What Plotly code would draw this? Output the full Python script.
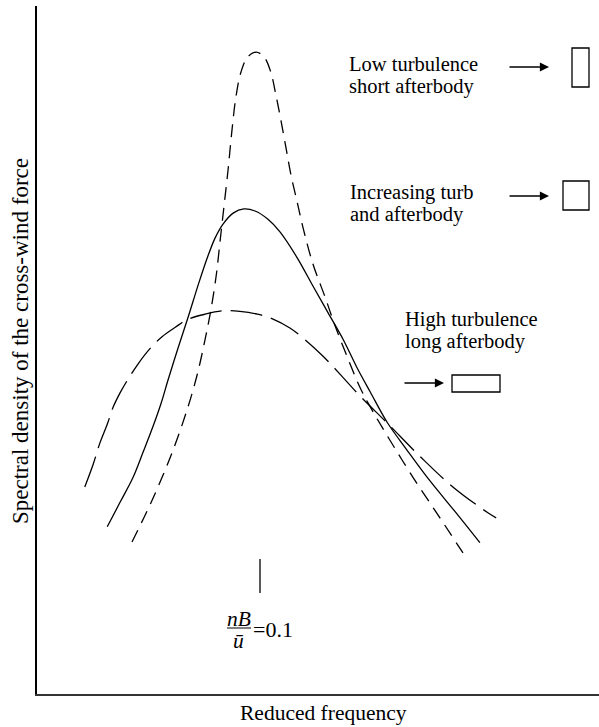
import plotly.graph_objects as go

# ---- data (arbitrary units) ----
# Low turbulence, short afterbody (short dashes)
low_x = [16.9, 20.5, 24.0, 26.7, 28.5, 29.9, 31.0, 31.9, 32.6, 33.3, 34.0, 34.7, 35.4, 36.3,
         37.5, 39.0, 40.4, 41.6, 42.5, 43.4, 44.3, 45.2, 46.3, 47.3, 49.1, 51.3, 53.0, 55.3,
         57.5, 59.6, 61.9, 66.9, 71.7, 75.8]
low_y = [22.1, 28.2, 35.0, 41.3, 46.4, 51.5, 56.1, 60.9, 66.0, 71.1, 76.2, 82.0, 86.8, 90.4,
         92.6, 93.3, 92.6, 90.4, 87.1, 83.4, 79.4, 75.4, 71.5, 67.9, 62.5, 57.6, 53.6, 48.8,
         44.5, 41.3, 38.1, 31.5, 25.6, 20.5]

# Increasing turbulence and afterbody (solid)
mid_x = [12.5, 14.8, 17.1, 18.9, 20.6, 22.1, 23.3, 25.1, 26.9, 28.7, 30.3, 31.7, 33.1, 34.9,
         36.8, 38.8, 41.1, 43.2, 46.3, 49.1, 51.8, 54.5, 56.9, 59.3, 62.3, 65.8, 69.9, 74.4, 78.8]
mid_y = [24.3, 27.9, 31.5, 35.2, 38.8, 42.3, 45.6, 50.3, 54.8, 59.5, 63.4, 66.3, 68.3, 69.9,
         70.5, 70.2, 69.0, 67.2, 63.4, 59.3, 55.4, 51.5, 47.5, 43.9, 39.5, 35.5, 31.0, 26.5, 22.0]

# High turbulence, long afterbody (long dashes)
high_x = [8.5, 10.0, 11.2, 12.5, 13.5, 14.8, 16.0, 18.0, 20.1, 22.2, 24.6, 26.7, 29.9, 33.1,
          36.1, 39.2, 42.0, 45.0, 47.7, 50.9, 53.9, 57.5, 62.3, 68.2, 74.0, 80.3, 81.7]
high_y = [30.1, 33.4, 36.5, 39.2, 41.6, 43.8, 45.5, 48.0, 50.2, 51.9, 53.3, 54.4, 55.2, 55.7,
          55.6, 55.2, 54.5, 53.2, 51.5, 49.1, 46.5, 43.3, 39.4, 34.5, 30.1, 26.3, 25.6]

label_low = ["Low turbulence", "short afterbody"]
label_mid = ["Increasing turb", "and afterbody"]
label_high = ["High turbulence", "long afterbody"]
x_title = "Reduced frequency"
y_title = "Spectral density of the cross-wind force"

# ---- layout geometry (pixels) ----
W, H = 599, 727
L, R, T, B = 37, 0, 6, 33
PW, PH = W - L - R, H - T - B


def X(px):
    return (px - L) / PW


def Y(py):
    return (H - B - py) / PH


FONT = "Liberation Serif, Times New Roman, serif"
FS = 20.5

fig = go.Figure()
line_w = 1.3
fig.add_trace(go.Scatter(x=low_x, y=low_y, mode="lines",
                         line=dict(color="black", width=line_w, dash="13px,8px",
                                   shape="spline", smoothing=1.0)))
fig.add_trace(go.Scatter(x=mid_x, y=mid_y, mode="lines",
                         line=dict(color="black", width=line_w, shape="spline", smoothing=1.0)))
fig.add_trace(go.Scatter(x=high_x, y=high_y, mode="lines",
                         line=dict(color="black", width=line_w, dash="32px,9px",
                                   shape="spline", smoothing=1.0)))

ann = []
shapes = []


def text(t, px, py, xanchor="left", size=FS, angle=0):
    ann.append(dict(x=X(px), y=Y(py), xref="paper", yref="paper", text=t, showarrow=False,
                    xanchor=xanchor, yanchor="middle", textangle=angle,
                    font=dict(family=FONT, size=size, color="black")))


def arrow(x0, x1, py):
    ann.append(dict(x=X(x1), y=Y(py), xref="paper", yref="paper", ax=x0 - x1, ay=0,
                    axref="pixel", ayref="pixel", text="", showarrow=True, arrowhead=2,
                    arrowsize=1.4, arrowwidth=1.3, arrowcolor="black"))


def rect(x0, y0, x1, y1):
    shapes.append(dict(type="rect", xref="paper", yref="paper", x0=X(x0), x1=X(x1),
                       y0=Y(y0), y1=Y(y1),
                       line=dict(color="black", width=1.3), fillcolor="rgba(0,0,0,0)"))


def seg(x0, y0, x1, y1, w=1.3):
    shapes.append(dict(type="line", xref="paper", yref="paper", x0=X(x0), x1=X(x1),
                       y0=Y(y0), y1=Y(y1), line=dict(color="black", width=w)))


# labels on the right
text(label_low[0], 347, 64)
text(label_low[1], 347, 87)
arrow(508, 549, 67)
rect(572, 48, 589, 87)

text(label_mid[0], 348, 192)
text(label_mid[1], 348, 214)
arrow(508, 549, 196)
rect(563, 181, 589, 210)

text(label_high[0], 403, 319)
text(label_high[1], 403, 341)
arrow(403, 444, 383)
rect(452, 375, 500, 392)

# nB/u = 0.1 marker
seg(260, 559, 260, 593)
text("<i>nB</i>", 239, 619, xanchor="center", size=21.5)
seg(227, 628, 251, 628, w=1.0)
text("<i>ū</i>", 238.5, 641, xanchor="center", size=21.5)
text("=0.1", 251, 629, size=22)

# axis titles
text(x_title, 323, 713, xanchor="center", size=21.5)
text(y_title, 20, 341, xanchor="center", size=23, angle=-90)

fig.update_layout(
    width=W, height=H,
    margin=dict(l=L, r=R, t=T, b=B, pad=0),
    paper_bgcolor="white", plot_bgcolor="white",
    showlegend=False,
    annotations=ann, shapes=shapes,
    xaxis=dict(range=[0, 100], showgrid=False, zeroline=False, showticklabels=False,
               ticks="", showline=True, linecolor="#333", linewidth=2, fixedrange=True),
    yaxis=dict(range=[0, 100], showgrid=False, zeroline=False, showticklabels=False,
               ticks="", showline=True, linecolor="black", linewidth=2, fixedrange=True),
)

fig.write_html("out.html", config={"displayModeBar": False},
               post_script="document.body.style.margin='0';document.body.style.overflow='hidden';")
